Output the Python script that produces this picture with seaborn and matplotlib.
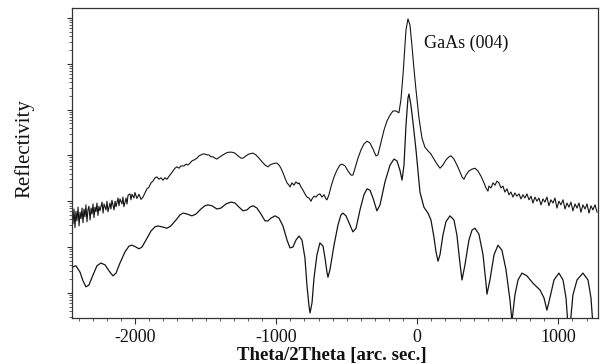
import numpy as np
import pandas as pd
import matplotlib
matplotlib.use("Agg")
import matplotlib.pyplot as plt
import seaborn as sns
from matplotlib.ticker import MultipleLocator, LogLocator, NullFormatter

# Simulated rocking curve (lower, smooth): theta/2theta [arc sec] and log10(reflectivity)
sim_x = [-2447, -2419, -2390, -2369, -2348, -2327, -2298, -2270, -2242, -2213,
         -2185, -2157, -2135, -2107, -2072, -2043, -2022, -1994, -1972, -1951,
         -1923, -1887, -1859, -1838, -1809, -1774, -1746, -1710, -1682, -1660,
         -1632, -1597, -1568, -1533, -1505, -1483, -1455, -1420, -1391, -1356,
         -1320, -1292, -1263, -1235, -1207, -1186, -1164, -1136, -1108, -1079,
         -1058, -1037, -1008, -980, -952, -923, -902, -881, -860, -838,
         -817, -796, -782, -768, -760, -746, -732, -711, -690, -668,
         -654, -640, -633, -619, -590, -562, -541, -527, -505, -477,
         -456, -434, -406, -378, -356, -335, -314, -286, -264, -229,
         -193, -165, -144, -123, -108, -94, -80, -66, -59, -45,
         -30, -9, 19, 47, 76, 97, 118, 133, 147, 161,
         182, 203, 232, 260, 281, 303, 317, 338, 366, 388,
         409, 437, 466, 487, 494, 515, 544, 572, 600, 629,
         657, 671, 692, 714, 742, 777, 820, 870, 898, 919,
         940, 969, 1004, 1033, 1054, 1075, 1103, 1132, 1174, 1210,
         1231, 1252]
sim_log_r = [-5.44, -5.41, -5.55, -5.74, -5.87, -5.83, -5.61, -5.41, -5.35, -5.39,
             -5.52, -5.63, -5.57, -5.35, -5.11, -4.98, -4.96, -5.00, -5.04, -5.00,
             -4.85, -4.65, -4.56, -4.54, -4.56, -4.59, -4.54, -4.41, -4.30, -4.26,
             -4.28, -4.32, -4.28, -4.17, -4.10, -4.08, -4.10, -4.17, -4.15, -4.06,
             -4.02, -4.04, -4.13, -4.21, -4.19, -4.13, -4.10, -4.15, -4.28, -4.43,
             -4.43, -4.37, -4.32, -4.37, -4.54, -4.85, -5.02, -5.00, -4.85, -4.76,
             -4.85, -5.24, -5.83, -6.27, -6.44, -6.22, -5.68, -5.17, -4.91, -4.98,
             -5.24, -5.55, -5.66, -5.50, -4.96, -4.52, -4.30, -4.26, -4.32, -4.52,
             -4.67, -4.59, -4.19, -3.86, -3.73, -3.76, -3.93, -4.21, -4.08, -3.58,
             -3.21, -3.08, -3.12, -3.32, -3.54, -3.21, -2.34, -1.75, -1.66, -1.90,
             -2.29, -2.88, -3.80, -4.13, -4.26, -4.41, -4.78, -5.11, -5.31, -5.17,
             -4.74, -4.45, -4.32, -4.41, -4.74, -5.37, -5.72, -5.39, -4.85, -4.63,
             -4.59, -4.72, -5.17, -5.79, -6.03, -5.72, -5.17, -4.96, -5.07, -5.50,
             -6.16, -6.62, -6.05, -5.72, -5.57, -5.63, -5.79, -5.94, -6.11, -6.38,
             -6.11, -5.72, -5.57, -5.72, -6.11, -7.00, -6.05, -5.72, -5.57, -5.72,
             -6.11, -7.00]

# Measured rocking curve (upper, noisy)
meas_x = [-2447, -2440, -2433, -2426, -2419, -2412, -2404, -2397, -2390, -2383,
          -2376, -2369, -2362, -2355, -2348, -2341, -2334, -2327, -2319, -2312,
          -2305, -2298, -2291, -2284, -2277, -2270, -2263, -2256, -2249, -2234,
          -2227, -2220, -2206, -2199, -2192, -2178, -2171, -2164, -2149, -2142,
          -2135, -2121, -2114, -2107, -2093, -2086, -2079, -2064, -2057, -2050,
          -2036, -2029, -2022, -2008, -2001, -1987, -1972, -1958, -1944, -1930,
          -1916, -1901, -1887, -1873, -1859, -1845, -1831, -1816, -1802, -1788,
          -1774, -1753, -1731, -1717, -1703, -1689, -1675, -1653, -1639, -1625,
          -1611, -1597, -1582, -1561, -1547, -1533, -1519, -1505, -1490, -1476,
          -1462, -1448, -1434, -1420, -1398, -1377, -1356, -1335, -1313, -1292,
          -1271, -1249, -1235, -1214, -1193, -1164, -1143, -1122, -1100, -1079,
          -1058, -1044, -1030, -1008, -994, -980, -966, -952, -938, -923,
          -909, -902, -888, -874, -860, -845, -838, -824, -810, -796,
          -782, -768, -753, -746, -732, -718, -704, -690, -675, -661,
          -647, -640, -626, -612, -590, -569, -548, -534, -512, -491,
          -470, -456, -441, -420, -399, -378, -356, -335, -314, -293,
          -279, -257, -236, -215, -193, -172, -151, -130, -116, -101,
          -87, -80, -66, -52, -38, -24, -9, 12, 33, 54,
          76, 97, 118, 140, 161, 182, 203, 225, 239, 260,
          281, 303, 317, 331, 345, 366, 388, 409, 430, 451,
          473, 487, 501, 508, 522, 537, 551, 565, 579, 593,
          607, 621, 636, 650, 664, 678, 692, 706, 721, 735,
          749, 763, 777, 792, 806, 820, 834, 848, 862, 877,
          891, 905, 919, 933, 947, 962, 976, 990, 1004, 1018,
          1033, 1047, 1061, 1075, 1089, 1103, 1118, 1132, 1146, 1160,
          1174, 1189, 1203, 1217, 1231, 1245, 1260, 1274]
meas_log_r = [-4.28, -4.49, -4.17, -4.58, -4.22, -4.43, -4.13, -4.54, -4.24, -4.38,
              -4.15, -4.47, -4.17, -4.34, -4.08, -4.45, -4.19, -4.11, -4.41, -4.15,
              -4.28, -4.06, -4.36, -4.13, -4.23, -4.04, -4.31, -4.11, -4.21, -4.02,
              -4.26, -4.06, -4.19, -4.00, -4.23, -4.04, -4.17, -3.98, -4.19, -4.00,
              -4.12, -3.93, -4.10, -3.95, -4.06, -3.91, -4.12, -3.93, -4.06, -3.87,
              -3.84, -3.97, -3.85, -3.93, -3.81, -3.94, -3.85, -3.96, -3.91, -3.82,
              -3.73, -3.69, -3.60, -3.56, -3.49, -3.47, -3.52, -3.49, -3.54, -3.49,
              -3.52, -3.43, -3.34, -3.28, -3.25, -3.28, -3.23, -3.23, -3.19, -3.21,
              -3.17, -3.12, -3.10, -3.06, -3.01, -2.99, -2.97, -2.97, -2.99, -2.99,
              -3.03, -3.03, -3.06, -3.08, -3.03, -2.99, -2.95, -2.93, -2.93, -2.95,
              -3.01, -3.06, -3.06, -3.01, -2.97, -2.95, -2.99, -3.06, -3.14, -3.21,
              -3.25, -3.21, -3.19, -3.17, -3.17, -3.21, -3.28, -3.38, -3.49, -3.60,
              -3.65, -3.69, -3.60, -3.65, -3.58, -3.62, -3.60, -3.69, -3.76, -3.84,
              -3.91, -3.93, -4.00, -3.95, -3.89, -3.91, -3.86, -3.84, -3.91, -3.86,
              -3.95, -3.97, -3.86, -3.69, -3.47, -3.32, -3.21, -3.19, -3.23, -3.34,
              -3.43, -3.43, -3.28, -3.06, -2.88, -2.75, -2.69, -2.73, -2.86, -3.01,
              -2.99, -2.71, -2.45, -2.25, -2.12, -2.03, -2.03, -2.07, -1.79, -1.24,
              -0.59, -0.26, -0.02, -0.15, -0.59, -1.09, -1.57, -2.18, -2.62, -2.82,
              -2.90, -2.97, -3.08, -3.19, -3.28, -3.21, -3.10, -3.03, -3.01, -3.08,
              -3.21, -3.36, -3.47, -3.52, -3.43, -3.34, -3.30, -3.28, -3.34, -3.45,
              -3.60, -3.71, -3.78, -3.67, -3.71, -3.60, -3.65, -3.56, -3.60, -3.71,
              -3.67, -3.80, -3.73, -3.86, -3.80, -3.91, -3.82, -3.89, -3.84, -3.95,
              -3.86, -3.93, -3.84, -3.97, -3.89, -4.04, -3.91, -4.00, -3.93, -4.08,
              -3.95, -4.02, -3.91, -4.10, -3.97, -4.04, -3.93, -4.15, -4.00, -4.08,
              -3.97, -4.17, -4.04, -4.13, -4.02, -4.21, -4.06, -4.15, -4.04, -4.24,
              -4.08, -4.17, -4.06, -4.26, -4.10, -4.19, -4.08, -4.24]

x_ticks = [-2000, -1000, 0, 1000]
peak_label = "GaAs (004)"

sns.set_theme(style="ticks")
plt.rcParams['font.family'] = ['Liberation Serif', 'DejaVu Serif']
plt.rcParams['axes.unicode_minus'] = False

meas = pd.DataFrame({'theta': meas_x, 'refl': 10.0 ** np.array(meas_log_r)})
sim = pd.DataFrame({'theta': sim_x, 'refl': 10.0 ** np.array(sim_log_r)})

fig = plt.figure(figsize=(6, 3.64), dpi=100)
ax = fig.add_axes([0.12, 0.1264, 0.8767, 0.8516])

line_col = '#151515'
sns.lineplot(data=meas, x='theta', y='refl', color=line_col, linewidth=0.8,
             estimator=None, sort=False, ax=ax)
sns.lineplot(data=sim, x='theta', y='refl', color=line_col, linewidth=0.9,
             estimator=None, sort=False, ax=ax)

ax.set_yscale('log')
ax.set_xlim(-2447, 1281)
ax.set_ylim(10 ** -6.55, 10 ** 0.218)

ax.set_xticks(x_ticks)
ax.xaxis.set_minor_locator(MultipleLocator(100))
ax.yaxis.set_major_locator(LogLocator(base=10, numticks=20))
ax.yaxis.set_minor_locator(LogLocator(base=10, subs=np.arange(2, 10), numticks=20))
ax.yaxis.set_major_formatter(NullFormatter())
ax.yaxis.set_minor_formatter(NullFormatter())

ax.tick_params(axis='x', which='major', length=4, width=0.8, labelsize=13,
               pad=4, color='#333333', labelcolor='#111111')
ax.tick_params(axis='x', which='minor', length=2.5, width=0.6, color='#444444')
ax.tick_params(axis='y', which='major', length=3.5, width=0.8, color='#333333')
ax.tick_params(axis='y', which='minor', length=2.5, width=0.6, color='#444444')

for side in ['left', 'right', 'top', 'bottom']:
    ax.spines[side].set_linewidth(0.9)
    ax.spines[side].set_color('#333333')

ax.set_xlabel('Theta/2Theta [arc. sec.]', fontsize=13.5, fontweight='bold', color='#111111')
ax.xaxis.set_label_coords(0.494, -0.092)
ax.xaxis.label.set_va('top')
ax.set_ylabel('Reflectivity', fontsize=15, color='#111111')
ax.yaxis.set_label_coords(-0.072, 0.548)

ax.text(345, 10 ** -0.55, peak_label, ha='center', va='center', fontsize=13, color='#111111')

fig.savefig('out.png', dpi=100, facecolor='white')
plt.close(fig)
